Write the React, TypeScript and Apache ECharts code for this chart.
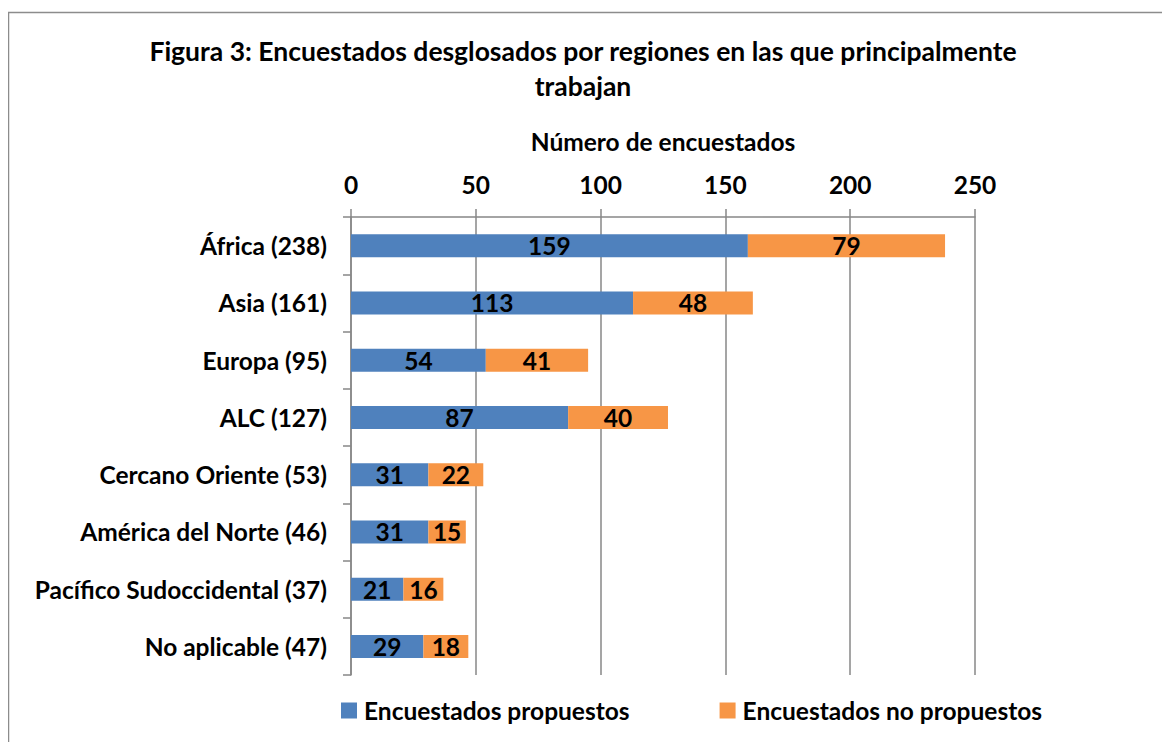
import React, { useEffect, useRef } from "react";
import * as echarts from "echarts";

const categories = [
  "África (238)",
  "Asia (161)",
  "Europa (95)",
  "ALC (127)",
  "Cercano Oriente (53)",
  "América del Norte (46)",
  "Pacífico Sudoccidental (37)",
  "No aplicable (47)",
];
const proposed = [159, 113, 54, 87, 31, 31, 21, 29];
const notProposed = [79, 48, 41, 40, 22, 15, 16, 18];
const xTicks = [0, 50, 100, 150, 200, 250];
const titleText = "Figura 3: Encuestados desglosados por regiones en las que principalmente\ntrabajan";
const axisName = "Número de encuestados";
const seriesNames = ["Encuestados propuestos", "Encuestados no propuestos"];

const FONT = "Lato, 'Open Sans', sans-serif";
const FS = 24.5;

export default function App() {
  const ref = useRef<HTMLDivElement>(null);
  useEffect(() => {
    if (!ref.current) return;
    const chart = echarts.init(ref.current, null, { renderer: "svg" });
    const gray = "#878787";
    const lbl = { fontFamily: FONT, fontSize: FS, fontWeight: "bold", color: "#000" };
    chart.setOption({
      animation: false,
      textStyle: { fontFamily: FONT },
      graphic: [
        {
          type: "rect",
          shape: { x: 0.5, y: 4.5, width: 1300, height: 900 },
          style: { fill: "none", stroke: "#8c8c8c", lineWidth: 1.5 },
          silent: true,
        },
      ],
      title: {
        text: titleText,
        left: 570,
        top: 20,
        textAlign: "center",
        textStyle: {
          fontFamily: FONT,
          fontSize: 26.5,
          fontWeight: "bold",
          color: "#000",
          lineHeight: 35,
          align: "center",
        },
      },
      legend: {
        left: 333,
        top: 690,
        padding: 0,
        itemWidth: 16,
        itemHeight: 16,
        itemGap: 90,
        icon: "rect",
        textStyle: { ...lbl, padding: [0, 0, 0, 2] },
        data: seriesNames,
      },
      grid: { left: 343, right: 195, top: 209, bottom: 67, containLabel: false },
      xAxis: {
        type: "value",
        position: "top",
        min: xTicks[0],
        max: xTicks[xTicks.length - 1],
        interval: 50,
        name: axisName,
        nameLocation: "middle",
        nameGap: 63,
        nameTextStyle: { ...lbl },
        axisLine: { show: true, lineStyle: { color: gray, width: 1.5 } },
        axisTick: { show: true, length: 8, lineStyle: { color: gray, width: 1.5 } },
        axisLabel: { margin: 20, ...lbl },
        splitLine: { show: true, lineStyle: { color: gray, width: 1.5 } },
      },
      yAxis: {
        type: "category",
        inverse: true,
        data: categories,
        axisLine: { show: true, lineStyle: { color: gray, width: 1.5 } },
        axisTick: { show: true, length: 8, lineStyle: { color: gray, width: 1.5 } },
        axisLabel: { margin: 24, ...lbl },
        splitLine: { show: false },
      },
      series: [
        {
          name: seriesNames[0],
          type: "bar",
          stack: "total",
          data: proposed,
          barWidth: 23,
          itemStyle: { color: "#4F81BD" },
          label: { show: true, position: "inside", ...lbl },
        },
        {
          name: seriesNames[1],
          type: "bar",
          stack: "total",
          data: notProposed,
          barWidth: 23,
          itemStyle: { color: "#F79646" },
          label: { show: true, position: "inside", ...lbl },
        },
      ],
    });
    return () => chart.dispose();
  }, []);
  return <div ref={ref} style={{ width: 1162, height: 734 }} />;
}
